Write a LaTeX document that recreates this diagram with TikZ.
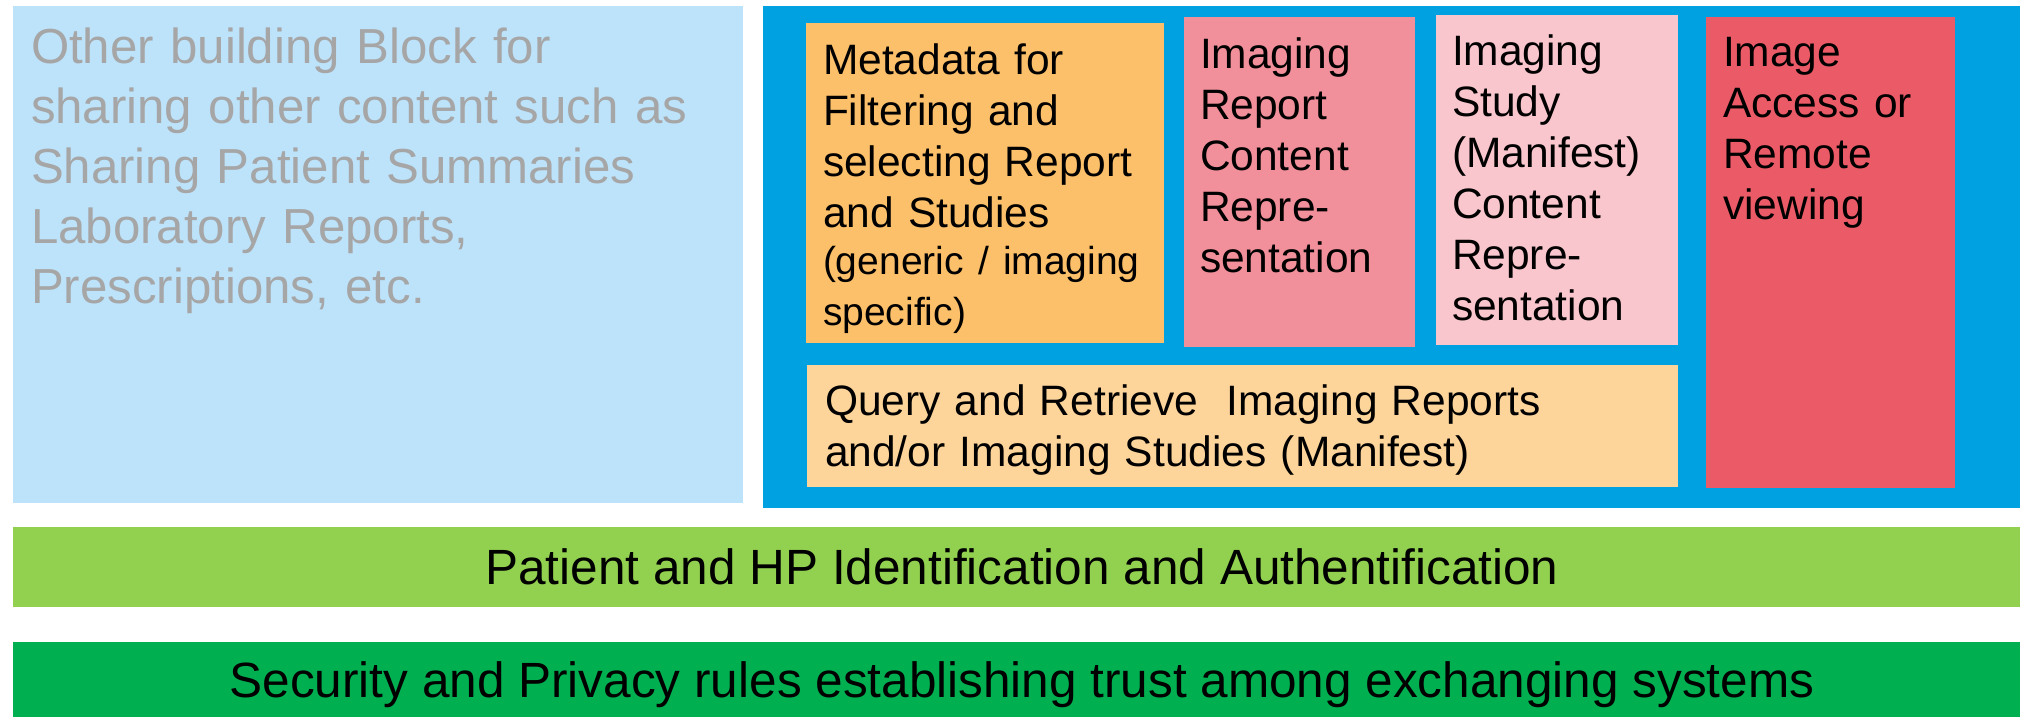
\documentclass[tikz,border=0pt]{standalone}
\usepackage{fontspec}
\setmainfont{Liberation Sans}
\usetikzlibrary{positioning}

\definecolor{otherblue}{HTML}{BDE3FB}
\definecolor{imgblue}{HTML}{00A1E0}
\definecolor{othergray}{HTML}{A6A6A6}
\definecolor{metaorange}{HTML}{FCC06A}
\definecolor{queryorange}{HTML}{FDD59B}
\definecolor{reportpink}{HTML}{F1909A}
\definecolor{studypink}{HTML}{F8C6CC}
\definecolor{accessred}{HTML}{EB5B67}
\definecolor{idgreen}{HTML}{92D050}
\definecolor{secgreen}{HTML}{00B050}

\begin{document}
\begin{tikzpicture}[x=1pt, y=-1pt,
	block/.style={rectangle, inner sep=0pt, outer sep=0pt, anchor=north west},
	boxtext/.style={inner sep=0pt, outer sep=0pt, align=left, text width=#1,
		font=\fontsize{42.5}{51}\selectfont},
	bartext/.style={inner sep=0pt, anchor=base, font=\fontsize{49.5}{60}\selectfont}]
	\useasboundingbox (0,0) rectangle (2020,717);

	% building blocks
	\node[block, fill=otherblue, minimum width=730pt, minimum height=497pt] (OTHER) at (13,6) {};
	\node[block, fill=imgblue, minimum width=1270pt, minimum height=502pt] (IMG) at (763,6) {};
	\node[block, fill=metaorange, minimum width=358pt, minimum height=320pt] (META) at (806,23) {};
	\node[block, fill=reportpink, minimum width=231pt, minimum height=330pt] (REPORT) at (1184,17) {};
	\node[block, fill=studypink, minimum width=242pt, minimum height=330pt] (STUDY) at (1436,15) {};
	\node[block, fill=accessred, minimum width=249pt, minimum height=471pt] (ACCESS) at (1706,17) {};
	\node[block, fill=queryorange, minimum width=871pt, minimum height=122pt] (QUERY) at (807,365) {};
	\node[block, fill=idgreen, minimum width=2020pt, minimum height=80pt] (IDENT) at (13,527) {};
	\node[block, fill=secgreen, minimum width=2020pt, minimum height=80pt] (SECUR) at (13,642) {};

	% texts inside the blocks
	\node[boxtext=700pt, text=othergray, font=\fontsize{49.2}{60}\selectfont,
		below right=22pt and 18pt of OTHER.north west] (OTHER-T)
		{Other building Block for\\ sharing other content such as\\ Sharing Patient Summaries\\
		 Laboratory Reports,\\ Prescriptions, etc.};
	\node[boxtext=340pt, below right=21pt and 17pt of META.north west] (META-T)
		{Metadata for\\ Filtering and\\ selecting Report\\ and Studies\par
		 \fontsize{39}{47}\selectfont(generic / imaging\\ specific)};
	\node[boxtext=215pt, below right=21pt and 16pt of REPORT.north west] (REPORT-T)
		{Imaging\\ Report\\ Content\\ Repre-\\ sentation};
	\node[boxtext=225pt, below right=20pt and 16pt of STUDY.north west] (STUDY-T)
		{Imaging\\ Study\\ (Manifest)\\ Content\\ Repre-\\ sentation};
	\node[boxtext=230pt, below right=20pt and 17pt of ACCESS.north west] (ACCESS-T)
		{Image\\ Access or\\ Remote\\ viewing};
	\node[boxtext=850pt, below right=20pt and 18pt of QUERY.north west] (QUERY-T)
		{Query and Retrieve\ \ Imaging Reports\\ and/or Imaging Studies (Manifest)};

	\node[bartext] (IDENT-T) at ([xshift=-1pt, yshift=-17pt]IDENT.center)
		{Patient and HP Identification and Authentification};
	\node[bartext] (SECUR-T) at ([xshift=-1pt, yshift=-15pt]SECUR.center)
		{Security and Privacy rules establishing trust among exchanging systems};
\end{tikzpicture}
\end{document}
